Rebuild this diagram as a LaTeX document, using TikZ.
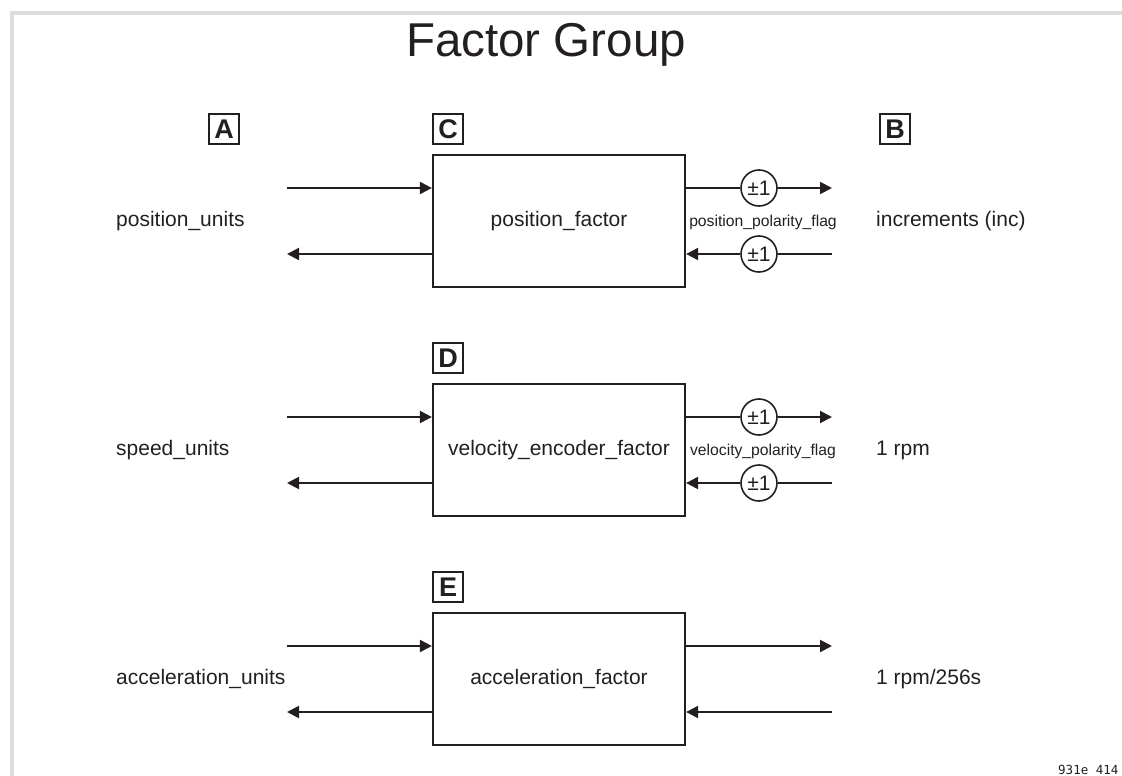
\documentclass[tikz,border=0pt]{standalone}
\usepackage{fontspec}
\setmainfont{Liberation Sans}
\newfontfamily\codefont{DejaVu Sans Mono}
\usetikzlibrary{arrows.meta}
\definecolor{ink}{HTML}{231F20}
\definecolor{framegray}{HTML}{DCDCDC}
\begin{document}
\begin{tikzpicture}[x=1pt,y=-1pt,
  factorbox/.style={draw=ink, line width=2.2pt, minimum width=252pt, minimum height=132pt, inner sep=0pt, font=\fontsize{21}{24}\selectfont, text=ink},
  letterbox/.style={draw=ink, line width=1.2pt, minimum size=30pt, inner sep=0pt, font=\bfseries\fontsize{27}{30}\selectfont, text=ink},
  flagcircle/.style={circle, draw=ink, line width=1.6pt, minimum size=36pt, inner sep=0pt, font=\fontsize{21}{24}\selectfont, text=ink, fill=white},
  unitlabel/.style={anchor=west, inner sep=0pt, font=\fontsize{21}{24}\selectfont, text=ink},
  flaglabel/.style={inner sep=0pt, font=\fontsize{15.7}{18}\selectfont, text=ink},
  signal/.style={draw=ink, line width=2pt},
  sigarrow/.style={signal, -{Triangle[length=12pt, width=12pt]}},
]
\useasboundingbox (0,0) rectangle (1122,776);
\draw[framegray, line width=4pt] (11.5,776) -- (11.5,13) -- (1122,13);

% title
\node[anchor=base, inner sep=0pt, font=\fontsize{47.5}{52}\selectfont, text=ink] (title) at (546,57) {Factor Group};

% letter boxes
\node[letterbox] (la) at (224,129) {A};
\node[letterbox] (lc) at (448,129) {C};
\node[letterbox] (lb) at (895,129) {B};
\node[letterbox] (ld) at (448,358) {D};
\node[letterbox] (le) at (448,587) {E};

% ---------- block 1 (T=155) ----------
\node[factorbox] (pf) at (559,221) {position\_factor};
\node[unitlabel] (pu) at (116,221) {position\_units};
\node[unitlabel] (pinc) at (876,221) {increments (inc)};
\node[flaglabel] (pflag) at (763,222) {position\_polarity\_flag};
\coordinate (pinL) at (287,188);
\coordinate (poutL) at (287,254);
\coordinate (poutR) at (832,188);
\coordinate (pinR) at (832,254);
\node[flagcircle] (pc1) at (759,188) {±1};
\node[flagcircle] (pc2) at (759,254) {±1};
\draw[sigarrow] (pinL) -- (pinL -| pf.west);
\draw[sigarrow] (poutL -| pf.west) -- (poutL);
\draw[signal] (pc1 -| pf.east) -- (pc1);
\draw[sigarrow] (pc1) -- (poutR);
\draw[signal] (pinR) -- (pc2);
\draw[sigarrow] (pc2) -- (pc2 -| pf.east);

% ---------- block 2 (T=384) ----------
\node[factorbox] (vf) at (559,450) {velocity\_encoder\_factor};
\node[unitlabel] (su) at (116,450) {speed\_units};
\node[unitlabel] (rpm) at (876,450) {1 rpm};
\node[flaglabel] (vflag) at (763,451) {velocity\_polarity\_flag};
\coordinate (vinL) at (287,417);
\coordinate (voutL) at (287,483);
\coordinate (voutR) at (832,417);
\coordinate (vinR) at (832,483);
\node[flagcircle] (vc1) at (759,417) {±1};
\node[flagcircle] (vc2) at (759,483) {±1};
\draw[sigarrow] (vinL) -- (vinL -| vf.west);
\draw[sigarrow] (voutL -| vf.west) -- (voutL);
\draw[signal] (vc1 -| vf.east) -- (vc1);
\draw[sigarrow] (vc1) -- (voutR);
\draw[signal] (vinR) -- (vc2);
\draw[sigarrow] (vc2) -- (vc2 -| vf.east);

% ---------- block 3 (T=613) ----------
\node[factorbox] (af) at (559,679) {acceleration\_factor};
\node[unitlabel] (au) at (116,679) {acceleration\_units};
\node[unitlabel] (rps) at (876,679) {1 rpm/256s};
\coordinate (ainL) at (287,646);
\coordinate (aoutL) at (287,712);
\coordinate (aoutR) at (832,646);
\coordinate (ainR) at (832,712);
\draw[sigarrow] (ainL) -- (ainL -| af.west);
\draw[sigarrow] (aoutL -| af.west) -- (aoutL);
\draw[sigarrow] (aoutR -| af.east) -- (aoutR);
\draw[sigarrow] (ainR) -- (ainR -| af.east);

% figure code
\node[anchor=base west, inner sep=0pt, font=\codefont\fontsize{12.5}{14}\selectfont, text=ink] (code) at (1058,774) {931e 414};
\end{tikzpicture}
\end{document}
